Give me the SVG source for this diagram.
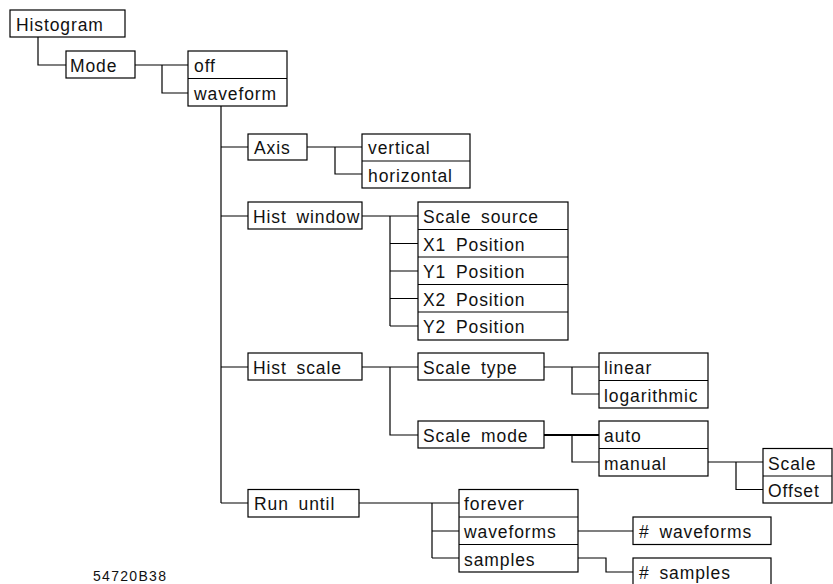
<svg xmlns="http://www.w3.org/2000/svg" width="833" height="584" viewBox="0 0 833 584">
<style>
  .bx { fill: #fff; stroke: #000; stroke-width: 1.2; }
  .dv { stroke: #000; stroke-width: 1.2; fill: none; }
  .cn { stroke: #000; stroke-width: 1.2; fill: none; }
  .thick { stroke-width: 2.2; }
  text { font-family: "Liberation Sans", Arial, sans-serif; font-size: 17.5px; letter-spacing: 0.9px; word-spacing: 4px; fill: #111; }
  .code { font-size: 14px; letter-spacing: 1.3px; }
</style>
<rect width="833" height="584" fill="#fff"/>

<g id="connectors">
  <path class="cn" d="M38,37 V65 H66"/>
  <path class="cn" d="M135,65 H188 M162,65 V93 H188"/>
  <path class="cn" d="M221,106 V503"/>
  <path class="cn" d="M221,147 H248 M221,216 H248 M221,367 H248 M221,503 H248"/>
  <path class="cn" d="M307,147 H362 M335,147 V174 H362"/>
  <path class="cn" d="M362,216 H418 M390,216 V326 M390,243.5 H418 M390,271 H418 M390,298.5 H418 M390,326 H418"/>
  <path class="cn" d="M362,367 H418 M390,367 V435 H418"/>
  <path class="cn" d="M544,367 H599 M572,367 V394 H599"/>
  <path class="cn thick" d="M544,435 H599"/>
  <path class="cn" d="M572,435 V462 H599"/>
  <path class="cn" d="M708,462 H763 M736,462 V489.5 H763"/>
  <path class="cn" d="M359,503 H459 M432,503 V558 M432,531 H459 M432,558 H459"/>
  <path class="cn" d="M578,531 H633"/>
  <path class="cn" d="M578,558 H606 V572 H633"/>
</g>

<g id="histogram">
  <rect class="bx" x="10" y="10" width="115" height="27"/>
  <text x="16" y="31">Histogram</text>
</g>
<g id="mode">
  <rect class="bx" x="66" y="51" width="69" height="27"/>
  <text x="70" y="72">Mode</text>
</g>
<g id="mode-options">
  <rect class="bx" x="188" y="51" width="99" height="55"/>
  <line class="dv" x1="188" y1="78.5" x2="287" y2="78.5"/>
  <text x="194" y="72">off</text>
  <text x="194" y="100">waveform</text>
</g>
<g id="axis">
  <rect class="bx" x="248" y="134" width="59" height="26"/>
  <text x="254" y="154">Axis</text>
</g>
<g id="axis-options">
  <rect class="bx" x="362" y="134" width="108" height="54"/>
  <line class="dv" x1="362" y1="161" x2="470" y2="161"/>
  <text x="368" y="154">vertical</text>
  <text x="368" y="181.5">horizontal</text>
</g>
<g id="hist-window">
  <rect class="bx" x="248" y="202" width="114" height="27"/>
  <text x="253" y="223">Hist window</text>
</g>
<g id="window-options">
  <rect class="bx" x="418" y="202" width="150" height="138"/>
  <path class="dv" d="M418,229.5 H568 M418,257 H568 M418,284.5 H568 M418,312 H568"/>
  <text x="423" y="223">Scale source</text>
  <text x="423" y="250.5">X1 Position</text>
  <text x="423" y="278">Y1 Position</text>
  <text x="423" y="305.5">X2 Position</text>
  <text x="423" y="333">Y2 Position</text>
</g>
<g id="hist-scale">
  <rect class="bx" x="248" y="353" width="114" height="27"/>
  <text x="253" y="374">Hist scale</text>
</g>
<g id="scale-type">
  <rect class="bx" x="418" y="353" width="126" height="27"/>
  <text x="423" y="374">Scale type</text>
</g>
<g id="scale-type-options">
  <rect class="bx" x="599" y="353" width="109" height="55"/>
  <line class="dv" x1="599" y1="380.5" x2="708" y2="380.5"/>
  <text x="604" y="374">linear</text>
  <text x="604" y="401.5">logarithmic</text>
</g>
<g id="scale-mode">
  <rect class="bx" x="418" y="421" width="126" height="27"/>
  <text x="423" y="442">Scale mode</text>
</g>
<g id="scale-mode-options">
  <rect class="bx" x="599" y="421" width="109" height="55"/>
  <line class="dv" x1="599" y1="448.5" x2="708" y2="448.5"/>
  <text x="604" y="442">auto</text>
  <text x="604" y="469.5">manual</text>
</g>
<g id="manual-options">
  <rect class="bx" x="763" y="448.5" width="69" height="54.5"/>
  <line class="dv" x1="763" y1="476" x2="832" y2="476"/>
  <text x="768" y="469.5">Scale</text>
  <text x="768" y="497">Offset</text>
</g>
<g id="run-until">
  <rect class="bx" x="248" y="489.5" width="111" height="27.5"/>
  <text x="254" y="510">Run until</text>
</g>
<g id="run-until-options">
  <rect class="bx" x="459" y="489.5" width="119" height="82.5"/>
  <path class="dv" d="M459,517 H578 M459,544.5 H578"/>
  <text x="464" y="510">forever</text>
  <text x="464" y="538">waveforms</text>
  <text x="464" y="565.5">samples</text>
</g>
<g id="num-waveforms">
  <rect class="bx" x="633" y="517" width="138" height="27.5"/>
  <text x="639" y="538">#  waveforms</text>
</g>
<g id="num-samples">
  <rect class="bx" x="633" y="558" width="138" height="30"/>
  <text x="639" y="578.5">#  samples</text>
</g>
<g id="figure-label">
  <text class="code" x="93" y="581">54720B38</text>
</g>
</svg>
